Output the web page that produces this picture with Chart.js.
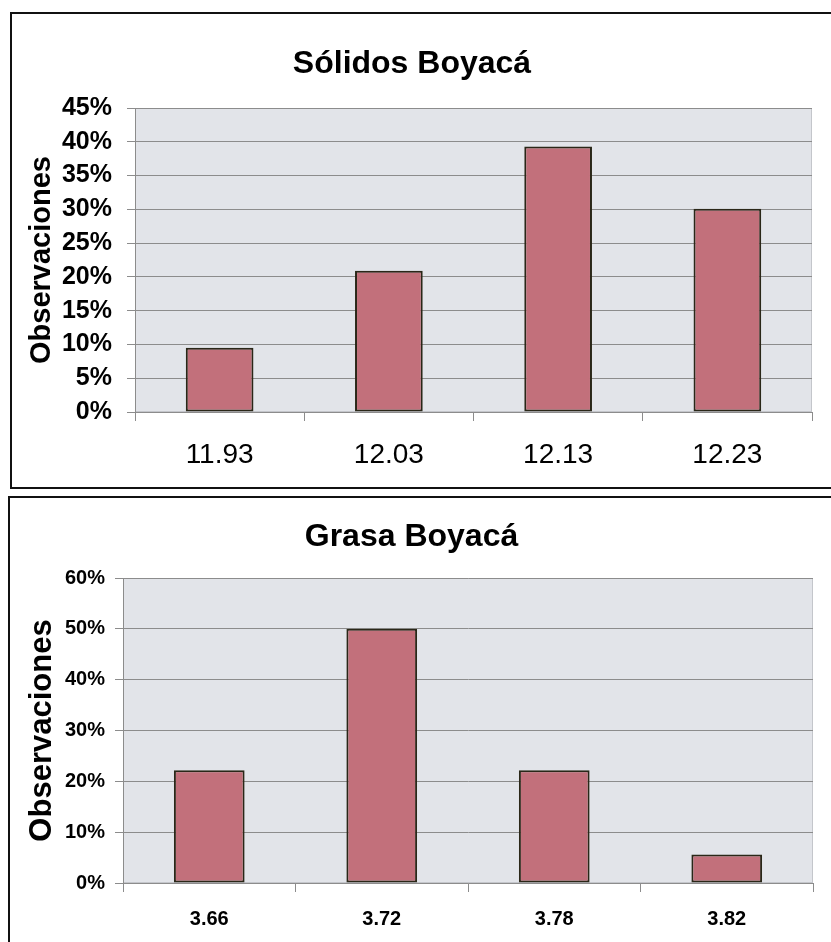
<!DOCTYPE html>
<html>
<head>
<meta charset="utf-8">
<script src="https://cdn.jsdelivr.net/npm/chart.js@4.4.1/dist/chart.umd.min.js"></script>
<style>
  html, body { margin: 0; padding: 0; background: #fff; width: 831px; height: 942px; overflow: hidden; }
  .box { position: absolute; border: 2px solid #111; box-sizing: border-box; }
  canvas { position: absolute; }
</style>
</head>
<body>
<div class="box" style="left:10px; top:12px; width:840px; height:477px;"></div>
<div class="box" style="left:8px; top:496px; width:840px; height:470px;"></div>
<canvas id="solidos" width="815" height="472" style="left:12px; top:14px;"></canvas>
<canvas id="grasa" width="821" height="444" style="left:10px; top:498px;"></canvas>
<script>
// Sólidos Boyacá
var solidosLabels = ['11.93', '12.03', '12.13', '12.23'];
var solidosValues = [9.5, 20.9, 39.3, 30.1];
// Grasa Boyacá
var grasaLabels = ['3.66', '3.72', '3.78', '3.82'];
var grasaValues = [22.2, 50.0, 22.2, 5.6];

var FONT = "'Liberation Sans', Arial, sans-serif";

// fondo gris del área de trazado
var plotBg = {
  id: 'plotBg',
  beforeDraw: function(chart) {
    var a = chart.chartArea, ctx = chart.ctx;
    ctx.save();
    ctx.fillStyle = '#e2e4e9';
    ctx.fillRect(a.left, a.top, a.right - a.left, a.bottom - a.top);
    ctx.strokeStyle = '#c4c6cb';
    ctx.lineWidth = 1;
    ctx.strokeRect(a.left + 0.5, a.top + 0.5, a.right - a.left - 1, a.bottom - a.top - 1);
    ctx.restore();
  }
};

function histChart(id, labels, values, cfg) {
  var ctx = document.getElementById(id).getContext('2d');
  return new Chart(ctx, {
    type: 'bar',
    data: {
      labels: labels,
      datasets: [{
        data: values,
        backgroundColor: '#c2707b',
        borderColor: '#2a2718',
        borderWidth: 2,
        borderSkipped: false,
        barPercentage: cfg.barPct,
        categoryPercentage: 1
      }]
    },
    options: {
      responsive: false,
      animation: false,
      devicePixelRatio: 1,
      layout: { padding: { right: cfg.padRight, left: 0, top: 0, bottom: 0 } },
      plugins: {
        legend: { display: false },
        tooltip: { enabled: false },
        title: {
          display: true,
          text: cfg.title,
          color: '#000',
          font: { family: FONT, size: 32, weight: 'bold' },
          padding: { top: cfg.titleTop, bottom: cfg.titleBottom }
        }
      },
      scales: {
        x: {
          offset: true,
          grid: { offset: true, drawOnChartArea: false, drawTicks: true, tickLength: 9, color: '#8c8c8c' },
          border: { display: true, color: '#8c8c8c' },
          ticks: {
            color: '#000',
            padding: cfg.xPad,
            maxRotation: 0,
            font: { family: FONT, size: cfg.xSize, weight: cfg.xWeight }
          },
          afterFit: function(s) { s.height = cfg.xHeight; }
        },
        y: {
          min: 0,
          max: cfg.yMax,
          ticks: {
            stepSize: cfg.yStep,
            color: '#000',
            padding: cfg.yPad,
            font: { family: FONT, size: cfg.ySize, weight: 'bold' },
            callback: function(v) { return v + '%'; }
          },
          grid: { color: '#8c8c8c', tickLength: 8 },
          border: { display: true, color: '#8c8c8c' },
          title: {
            display: true,
            text: 'Observaciones',
            color: '#000',
            font: { family: FONT, size: cfg.yTitleSize, weight: 'bold' },
            padding: { top: cfg.yTitlePad, bottom: 0 }
          },
          afterFit: function(s) { s.width = cfg.yWidth; }
        }
      }
    },
    plugins: [plotBg]
  });
}

window.chartSolidos = histChart('solidos', solidosLabels, solidosValues, {
  title: 'Sólidos Boyacá',
  titleTop: 31, titleBottom: 24.6,
  padRight: 15,
  yWidth: 123, yMax: 45, yStep: 5, ySize: 25, yPad: 15,
  yTitleSize: 29, yTitlePad: 13,
  xHeight: 74, xSize: 28, xWeight: 'normal', xPad: 17,
  barPct: 0.40
});

window.chartGrasa = histChart('grasa', grasaLabels, grasaValues, {
  title: 'Grasa Boyacá',
  titleTop: 20, titleBottom: 21.6,
  padRight: 18,
  yWidth: 113, yMax: 60, yStep: 10, ySize: 20, yPad: 10,
  yTitleSize: 31, yTitlePad: 14,
  xHeight: 59, xSize: 20, xWeight: 'bold', xPad: 15,
  barPct: 0.41
});
</script>
</body>
</html>
